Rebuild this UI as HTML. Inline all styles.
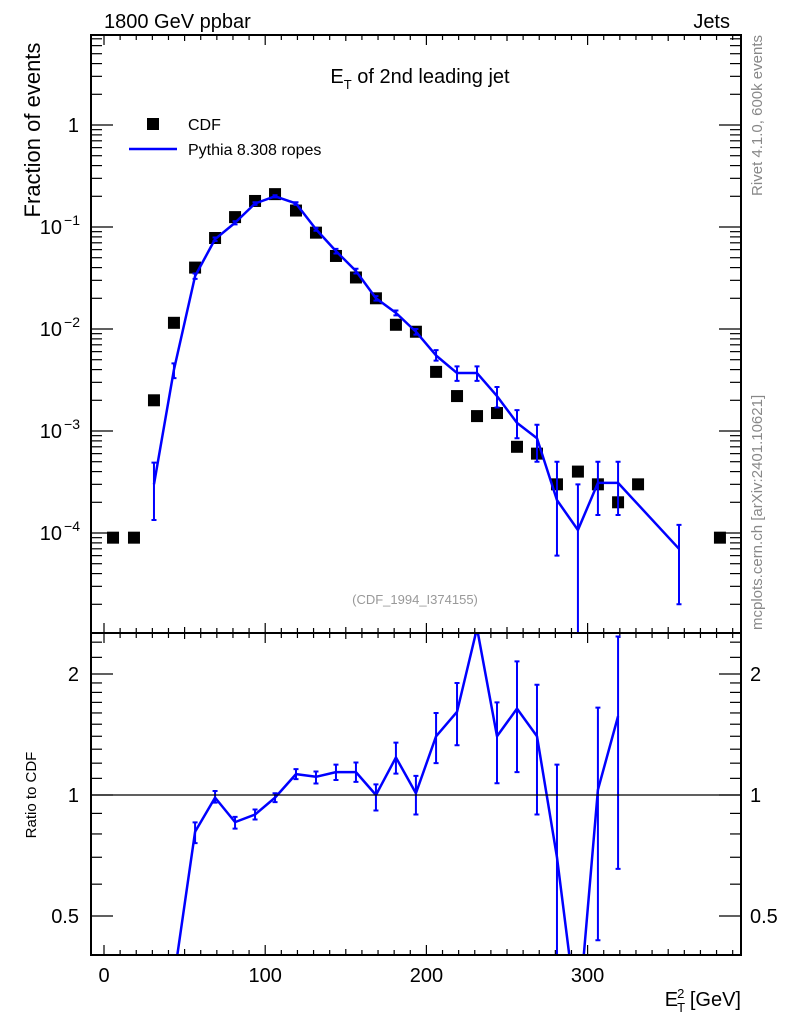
<!DOCTYPE html>
<html><head><meta charset="utf-8"><style>
html,body{margin:0;padding:0;background:#fff;width:786px;height:1024px;overflow:hidden;}
svg{display:block;font-family:"Liberation Sans",sans-serif;}
</style></head><body>
<svg id="chart" width="786" height="1024" viewBox="0 0 786 1024" xmlns="http://www.w3.org/2000/svg" overflow="hidden">
<defs>
<clipPath id="clipMain"><rect x="91" y="35" width="650" height="598"/></clipPath>
<clipPath id="clipRatio"><rect x="91" y="633" width="650" height="322"/></clipPath>
</defs>
<rect x="0" y="0" width="786" height="1024" fill="#fff"/>
<g id="ticks"></g>
<g id="mainMarks" clip-path="url(#clipMain)"></g>
<g id="ratioMarks" clip-path="url(#clipRatio)"></g>
<rect x="91" y="35" width="650" height="598" fill="none" stroke="#000" stroke-width="2"/>
<rect x="91" y="633" width="650" height="322" fill="none" stroke="#000" stroke-width="2"/>
<line x1="91" y1="795" x2="741" y2="795" stroke="#000" stroke-width="1.2"/>
<text x="104" y="28" font-size="20">1800 GeV ppbar</text>
<text x="730" y="28" font-size="20" text-anchor="end">Jets</text>
<text x="420" y="83" font-size="20" text-anchor="middle">E<tspan font-size="13" dy="6">T</tspan><tspan dy="-6"> of 2nd leading jet</tspan></text>
<rect x="147" y="118" width="12" height="12" fill="#000"/>
<text x="188" y="130" font-size="16">CDF</text>
<line x1="129" y1="149" x2="177" y2="149" stroke="#0000ff" stroke-width="2.5"/>
<text x="188" y="155" font-size="16">Pythia 8.308 ropes</text>
<text transform="translate(40,130) rotate(-90)" font-size="22" text-anchor="middle">Fraction of events</text>
<text transform="translate(36,795) rotate(-90)" font-size="15" text-anchor="middle">Ratio to CDF</text>
<text x="415" y="604" font-size="13" fill="#999" text-anchor="middle">(CDF_1994_I374155)</text>
<text transform="translate(762,35) rotate(-90)" font-size="15" fill="#888" text-anchor="end">Rivet 4.1.0,  600k events</text>
<text transform="translate(762,630) rotate(-90)" font-size="15" fill="#888" text-anchor="start">mcplots.cern.ch [arXiv:2401.10621]</text>
<text x="741" y="1006" font-size="20" text-anchor="end">E<tspan font-size="13" dy="6" dx="-1">T</tspan><tspan font-size="13" dy="-14" dx="-8">2</tspan><tspan dy="8"> [GeV]</tspan></text>
</svg>
<script>
const cdfX=[5.6,18.6,31.0,43.4,56.5,68.9,81.3,93.7,106.1,119.1,131.5,143.9,156.3,168.7,181.1,193.5,206.0,219.0,231.4,243.8,256.2,268.6,281.0,294.0,306.4,318.9,331.3,382.1];
const cdfY=[9e-5,9e-5,2e-3,1.15e-2,0.04,0.078,0.125,0.18,0.21,0.145,0.088,0.052,0.032,0.02,0.011,0.0094,0.0038,0.0022,0.0014,0.0015,7e-4,6e-4,3e-4,4e-4,3e-4,2e-4,3e-4,9e-5];
const pyX=[31.0,43.4,56.5,68.9,81.3,93.7,106.1,119.1,131.5,143.9,156.3,168.7,181.1,193.5,206.0,219.0,231.4,243.8,256.2,268.6,281.0,294.0,306.4,318.9,356.7];
const pyY=[3e-4,4e-3,0.033,0.076,0.11,0.17,0.2,0.17,0.095,0.058,0.037,0.02,0.0144,0.0094,0.0055,0.0037,0.0037,0.0022,0.0012,8.5e-4,2.1e-4,1.07e-4,3.1e-4,3.1e-4,7e-5];
const pyLo=[1.34e-4,3.3e-3,0.031,0.073,0.106,0.165,0.195,0.165,0.092,0.055,0.035,0.019,0.0136,0.0088,0.0049,0.0031,0.0031,0.0017,8.5e-4,5e-4,6e-5,1e-6,1.5e-4,1.5e-4,2e-5];
const pyHi=[4.9e-4,4.6e-3,0.035,0.079,0.114,0.175,0.205,0.175,0.098,0.061,0.039,0.021,0.0152,0.0100,0.0062,0.0043,0.0043,0.0027,0.0016,1.15e-3,5e-4,3e-4,5e-4,5e-4,1.2e-4];
const ratioX=[43.4,56.5,68.9,81.3,93.7,106.1,119.1,131.5,143.9,156.3,168.7,181.1,193.5,206.0,219.0,231.4,243.8,256.2,268.6,281.0,294.0,306.4,318.9];
const ratioY=[0.35,0.81,0.985,0.856,0.894,0.985,1.127,1.11,1.14,1.14,1.0,1.24,1.01,1.40,1.61,2.6,1.40,1.64,1.40,0.70,0.27,1.03,1.57];
const ratioLo=[null,0.759,0.957,0.825,0.869,0.96,1.095,1.068,1.09,1.078,0.915,1.13,0.894,1.2,1.33,null,1.07,1.14,0.894,0.2,null,0.435,0.655];
const ratioHi=[null,0.855,1.023,0.882,0.92,1.01,1.16,1.144,1.19,1.205,1.063,1.35,1.116,1.6,1.9,null,1.7,2.15,1.88,1.19,null,1.65,2.48];
const xTicks=[0,100,200,300];
const yMainTicks=[1,0.1,0.01,0.001,0.0001];
const yMainLabels=["1","10","10","10","10"];
const yMainExp=["","−1","−2","−3","−4"];
const ratioTicks=[0.5,1,2];
const ratioLabels=["0.5","1","2"];

const NS="http://www.w3.org/2000/svg";
const X=g=>104+1.612*g;
const Ym=v=>125-102*Math.log10(v);
const Yr=r=>795-121*Math.log2(r);
function mk(tag,attrs,parent){const e=document.createElementNS(NS,tag);for(const k in attrs)e.setAttribute(k,attrs[k]);parent.appendChild(e);return e;}
const tg=document.getElementById('ticks');
const mm=document.getElementById('mainMarks');
const rm=document.getElementById('ratioMarks');
const svg=document.getElementById('chart');

for(let g=0;g<=390;g+=10){
  const major=(g%100===0);const mid=(g%50===0);const L=major?10:(mid?6:5);const x=X(g);
  [[633,633-L],[35,35+L],[955,955-L],[633,633+L]].forEach(p=>{
    const t=mk('line',{x1:x,x2:x,y1:p[0],y2:p[1],stroke:'#000','stroke-width':1.2},tg);
    
    
  });
}
xTicks.forEach(g=>{
  const t=mk('text',{x:X(g),y:982,'font-size':20,'text-anchor':'middle'},svg);
  t.textContent=String(g);
  
  
});
for(let d=-5;d<=0;d++){
  for(let m=1;m<=9;m++){
    const v=m*Math.pow(10,d);const y=Ym(v);
    if(y<35||y>633)continue;
    const L=m===1?22:11;
    [[91,91+L],[741,741-L]].forEach(p=>{
      const t=mk('line',{x1:p[0],x2:p[1],y1:y,y2:y,stroke:'#000','stroke-width':1.2},tg);
      
      
    });
  }
}
yMainTicks.forEach((v,i)=>{
  const t=mk('text',{x:i===0?79:62,y:Ym(v)+7,'font-size':20,'text-anchor':'end'},svg);
  t.textContent=yMainLabels[i];
  if(yMainExp[i]){const s=mk('tspan',{x:80,dy:-9,'font-size':14,'text-anchor':'end'},t);s.textContent=yMainExp[i];}
  
  
});
const rminor=[0.4,0.5,0.6,0.7,0.8,0.9,1,1.1,1.2,1.3,1.4,1.5,1.6,1.7,1.8,1.9,2,2.2,2.4];
rminor.forEach(r=>{
  const y=Yr(r);if(y<634||y>954)return;
  const L=(r===0.5||r===1||r===2)?22:11;
  [[91,91+L],[741,741-L]].forEach(p=>{
    const t=mk('line',{x1:p[0],x2:p[1],y1:y,y2:y,stroke:'#000','stroke-width':1.2},tg);
    
    
  });
});
ratioTicks.forEach((r,i)=>{
  const t=mk('text',{x:79,y:Yr(r)+7,'font-size':20,'text-anchor':'end'},svg);
  t.textContent=ratioLabels[i];
  
  
  const t2=mk('text',{x:750,y:Yr(r)+7,'font-size':20,'text-anchor':'start'},svg);
  t2.textContent=ratioLabels[i];
  
  
});
cdfX.forEach((g,i)=>{
  const r=mk('rect',{x:X(g)-6,y:Ym(cdfY[i])-6,width:12,height:12,fill:'#000'},mm);
  
  
});
const pl=mk('polyline',{points:pyX.map((g,i)=>X(g)+','+Ym(pyY[i])).join(' '),fill:'none',stroke:'#0000ff','stroke-width':2.5,'stroke-linejoin':'round'},mm);


pyX.forEach((g,i)=>{
  const x=X(g),y1=Ym(pyHi[i]),y2=Ym(pyLo[i]);
  const e=mk('path',{d:`M${x},${y1}V${y2}M${x-2.5},${y1}h5M${x-2.5},${y2}h5`,stroke:'#0000ff','stroke-width':2,fill:'none'},mm);
  
  
});
const rl=mk('polyline',{points:ratioX.map((g,i)=>X(g)+','+Yr(ratioY[i])).join(' '),fill:'none',stroke:'#0000ff','stroke-width':2.5,'stroke-linejoin':'round'},rm);


ratioX.forEach((g,i)=>{
  if(ratioLo[i]===null)return;
  const x=X(g),y1=Yr(ratioHi[i]),y2=Yr(ratioLo[i]);
  const e=mk('path',{d:`M${x},${y1}V${y2}M${x-2.5},${y1}h5M${x-2.5},${y2}h5`,stroke:'#0000ff','stroke-width':2,fill:'none'},rm);
  
  
});
</script>
</body></html>
